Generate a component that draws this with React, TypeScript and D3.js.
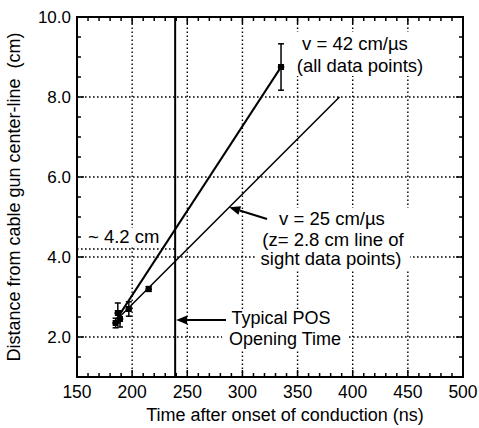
import React from 'react';
import * as d3 from 'd3';

const timeTicks = [150, 200, 250, 300, 350, 400, 450, 500];
const distTicks = [2, 4, 6, 8, 10];
const gridTimes = [200, 250, 300, 350, 400, 450];
const gridDists = [2, 4, 6, 8];
const pointTimes = [185, 187, 189, 197, 215, 335];
const pointDists = [2.35, 2.6, 2.45, 2.7, 3.2, 8.75];
const pointErrs = [0.12, 0.25, 0.2, 0.18, 0.06, 0.58];
const timeErr = 3;
const fastFitTimes = [186, 335];
const fastFitDists = [2.45, 8.75];
const slowFitTimes = [186, 388];
const slowFitDists = [2.43, 8.0];
const openingTime = 239;
const markDist = 4.2;

const W = 479, H = 428;
const FONT = '"Liberation Sans", Arial, Helvetica, sans-serif';

export default function App() {
  const x = d3.scaleLinear().domain([150, 500]).range([77, 463]);
  const y = d3.scaleLinear().domain([1, 10]).range([377, 17]);
  const [x0, x1] = x.range();
  const [y0, y1] = y.range();
  const line = d3.line<[number, number]>().x(d => x(d[0])).y(d => y(d[1]));
  const fast = fastFitTimes.map((t, i) => [t, fastFitDists[i]] as [number, number]);
  const slow = slowFitTimes.map((t, i) => [t, slowFitDists[i]] as [number, number]);
  const minorX = d3.range(150, 501, 10);
  const minorY = d3.range(1, 10.01, 0.5);
  const dot = { stroke: '#000', strokeWidth: 1.4, strokeDasharray: '1.6 2.4', fill: 'none' } as const;
  const txt = { fontFamily: FONT, fontSize: 18.5, fill: '#000' } as const;

  const arrow = (xa: number, ya: number, xb: number, yb: number) => {
    const ang = Math.atan2(yb - ya, xb - xa);
    const L = 11, Wd = 4.5;
    const bx = xb - L * Math.cos(ang), by = yb - L * Math.sin(ang);
    const px = -Math.sin(ang) * Wd, py = Math.cos(ang) * Wd;
    return (
      <g>
        <line x1={xa} y1={ya} x2={bx} y2={by} stroke="#000" strokeWidth={2} />
        <polygon points={`${xb},${yb} ${bx + px},${by + py} ${bx - px},${by - py}`} fill="#000" />
      </g>
    );
  };

  const slowAt = (t: number) => slowFitDists[0] + (slowFitDists[1] - slowFitDists[0]) * (t - slowFitTimes[0]) / (slowFitTimes[1] - slowFitTimes[0]);

  return (
    <svg width={W} height={H} style={{ position: 'absolute', left: 0, top: 0, background: '#fff' }}>
      <rect x={0} y={0} width={W} height={H} fill="#fff" />
      {/* grid */}
      {gridTimes.map(t => <line key={'gx' + t} x1={x(t)} x2={x(t)} y1={y0} y2={y1} {...dot} />)}
      {gridDists.map(d => <line key={'gy' + d} x1={x0} x2={x1} y1={y(d)} y2={y(d)} {...dot} />)}
      <line x1={x0} x2={x(openingTime)} y1={y(markDist)} y2={y(markDist)} {...dot} />

      {/* annotation backgrounds */}
      <rect x={86} y={228} width={70} height={18} fill="#fff" />
      <rect x={293} y={32} width={134} height={44} fill="#fff" />
      <rect x={256} y={208} width={154} height={62} fill="#fff" />
      <rect x={222} y={309} width={126} height={40} fill="#fff" />

      {/* frame */}
      <rect x={x0} y={y1} width={x1 - x0} height={y0 - y1} fill="none" stroke="#000" strokeWidth={2} />
      {minorX.map(t => {
        const len = t % 50 === 0 ? 7 : 4;
        return (
          <g key={'tx' + t}>
            <line x1={x(t)} x2={x(t)} y1={y0} y2={y0 - len} stroke="#000" strokeWidth={1.5} />
            <line x1={x(t)} x2={x(t)} y1={y1} y2={y1 + len} stroke="#000" strokeWidth={1.5} />
          </g>
        );
      })}
      {minorY.map(d => {
        const len = Math.abs(d % 2) < 1e-6 ? 7 : 4;
        return (
          <g key={'ty' + d}>
            <line x1={x0} x2={x0 + len} y1={y(d)} y2={y(d)} stroke="#000" strokeWidth={1.5} />
            <line x1={x1} x2={x1 - len} y1={y(d)} y2={y(d)} stroke="#000" strokeWidth={1.5} />
          </g>
        );
      })}

      {/* tick labels */}
      {timeTicks.map(t => (
        <text key={'lx' + t} x={x(t)} y={398} textAnchor="middle" style={{ ...txt, fontSize: 17.5 }}>{t}</text>
      ))}
      {distTicks.map(d => (
        <text key={'ly' + d} x={71} y={y(d) + 6} textAnchor="end" style={{ ...txt, fontSize: 17 }}>{d.toFixed(1)}</text>
      ))}
      <text x={285} y={421} textAnchor="middle" style={{ ...txt, fontSize: 18 }}>Time after onset of conduction (ns)</text>
      <text transform={`translate(20,${(y0 + y1) / 2}) rotate(-90)`} textAnchor="middle" style={{ ...txt, fontSize: 18 }}>
        Distance from cable gun center-line{'\u00a0\u00a0'}(cm)
      </text>

      {/* opening time line */}
      <line x1={x(openingTime)} x2={x(openingTime)} y1={y0} y2={y1} stroke="#000" strokeWidth={2} />

      {/* fits */}
      <path d={line(fast) || ''} stroke="#000" strokeWidth={2.2} fill="none" />
      <path d={line(slow) || ''} stroke="#000" strokeWidth={1.5} fill="none" />

      {/* points */}
      {pointTimes.map((t, i) => {
        const cx = x(t), cy = y(pointDists[i]);
        return (
          <g key={'p' + i}>
            <line x1={cx} x2={cx} y1={y(pointDists[i] - pointErrs[i])} y2={y(pointDists[i] + pointErrs[i])} stroke="#000" strokeWidth={1.5} />
            <line x1={cx - 3} x2={cx + 3} y1={y(pointDists[i] - pointErrs[i])} y2={y(pointDists[i] - pointErrs[i])} stroke="#000" strokeWidth={1.5} />
            <line x1={cx - 3} x2={cx + 3} y1={y(pointDists[i] + pointErrs[i])} y2={y(pointDists[i] + pointErrs[i])} stroke="#000" strokeWidth={1.5} />
            <line x1={x(t - timeErr)} x2={x(t + timeErr)} y1={cy} y2={cy} stroke="#000" strokeWidth={1.5} />
            <rect x={cx - 3} y={cy - 3} width={6} height={6} fill="#000" />
          </g>
        );
      })}

      {/* annotations */}
      <text x={88} y={243} style={txt}>~ 4.2 cm</text>
      <text x={355} y={50} textAnchor="middle" style={txt}>v = 42 cm/µs</text>
      <text x={360} y={72} textAnchor="middle" style={txt}>(all data points)</text>
      <text x={332} y={225} textAnchor="middle" style={txt}>v = 25 cm/µs</text>
      <text x={333} y={246} textAnchor="middle" style={txt}>(z= 2.8 cm line of</text>
      <text x={331} y={265} textAnchor="middle" style={txt}>sight data points)</text>
      <text x={281} y={324} textAnchor="middle" style={{ ...txt, fontSize: 18 }}>Typical POS</text>
      <text x={285} y={345} textAnchor="middle" style={{ ...txt, fontSize: 18 }}>Opening Time</text>
      {arrow(226, 320, x(openingTime) + 1, 320)}
      {arrow(267, 219, x(288), y(slowAt(288)))}
    </svg>
  );
}
